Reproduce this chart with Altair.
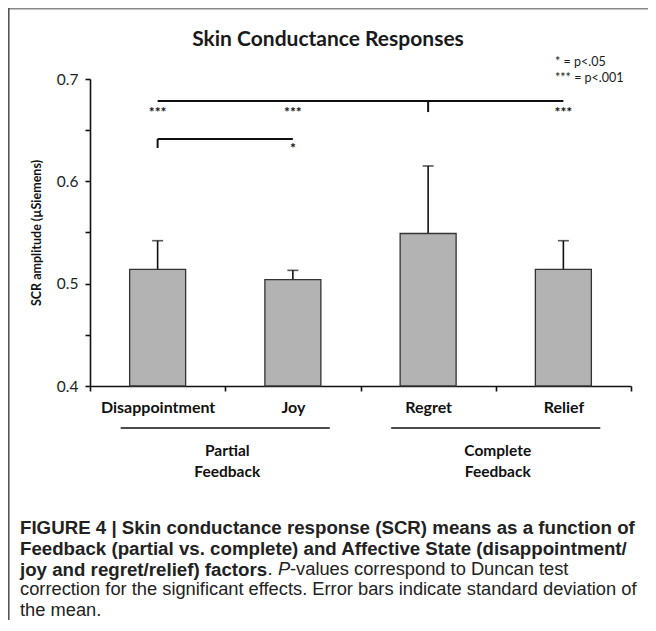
import altair as alt
import pandas as pd

# ---------------- data ----------------
categories = ["Disappointment", "Joy", "Regret", "Relief"]
means = [0.514, 0.504, 0.549, 0.514]
sds = [0.028, 0.009, 0.066, 0.028]
y_ticks = [0.40, 0.45, 0.50, 0.55, 0.60, 0.65, 0.70]
groups = [["Partial", "Feedback"], ["Complete", "Feedback"]]
title_text = "Skin Conductance Responses"
y_title = "SCR amplitude (µSiemens)"
legend_lines = ["* = p<.05", "*** = p<.001"]

# significance annotations (levels in data units)
top_bracket = {"from": "Disappointment", "to": "Relief", "tick_at": "Regret", "level": 0.6785, "tick_end": 0.6677}
top_stars = {"cats": ["Disappointment", "Joy", "Relief"], "label": "***", "level": 0.6665}
low_bracket = {"from": "Disappointment", "to": "Joy", "tick_at": "Disappointment", "level": 0.6414, "tick_end": 0.6326}
low_stars = {"cats": ["Joy"], "label": "*", "level": 0.6320}

caption_lines = [
    [("FIGURE 4 | Skin conductance response (SCR) means as a function of", "bold", "normal")],
    [("Feedback (partial vs. complete) and Affective State (disappointment/", "bold", "normal")],
    [("joy and regret/relief) factors", "bold", "normal"), (".", "normal", "normal"),
     ("P", "normal", "italic"), ("-values correspond to Duncan test", "normal", "normal")],
    [("correction for the significant effects. Error bars indicate standard deviation of", "normal", "normal")],
    [("the mean.", "normal", "normal")],
]

# ---------------- layout ----------------
W, H = 541, 307
PAD_L, PAD_T, PAD_R, PAD_B = 82, 71, 17, 234
FONT = "Lato"
CAP_FONT = "Liberation Sans"
step = W / len(categories)

df = pd.DataFrame({"cat": categories, "mean": means, "sd": sds})
df["upper"] = df["mean"] + df["sd"]

xscale = alt.Scale(domain=categories, paddingInner=0, paddingOuter=0)
yscale = alt.Scale(domain=[0.4, 0.7], nice=False, zero=False)

xaxis = alt.Axis(title=None, tickBand="extent", labelAngle=0, labelAlign="center",
                 labelFont=FONT, labelFontWeight="bold", labelFontSize=16, labelColor="#111",
                 labelPadding=16, domainColor="#111", domainWidth=1.6,
                 tickColor="#111", tickWidth=1.6, tickSize=5)
yaxis = alt.Axis(title=y_title, values=y_ticks,
                 labelExpr="abs(datum.value*10 - round(datum.value*10)) < 0.001 ? format(datum.value, '.1f') : ''",
                 labelFont=FONT, labelFontSize=15.5, labelColor="#222", labelPadding=7,
                 domainColor="#111", domainWidth=1.6, tickColor="#111", tickWidth=1.6,
                 tickSize=5, grid=False, titleFont=FONT, titleFontSize=12.5,
                 titleFontWeight="bold", titleColor="#111", titlePadding=13)

X = alt.X("cat:N", scale=xscale, axis=xaxis, sort=categories)
Y = alt.Y("mean:Q", scale=yscale, axis=yaxis)

bars = alt.Chart(df).mark_bar(width=alt.RelativeBandSize(0.414), color="#b3b3b3",
                              stroke="#333", strokeWidth=1.3).encode(
    x=X, y=Y, y2=alt.datum(0.4))
err = alt.Chart(df).mark_rule(color="#111", strokeWidth=1.6).encode(
    x=alt.X("cat:N", scale=xscale, sort=categories), y=alt.Y("upper:Q", scale=yscale), y2="mean:Q")
cap = alt.Chart(df).mark_tick(color="#111", thickness=1.6, size=11).encode(
    x=alt.X("cat:N", scale=xscale, sort=categories), y=alt.Y("upper:Q", scale=yscale))

layers = [err, cap, bars]

def bracket(b):
    seg = pd.DataFrame({"a": [b["from"]], "b": [b["to"]], "lv": [b["level"]]})
    tick = pd.DataFrame({"a": [b["tick_at"]], "lv": [b["level"]], "te": [b["tick_end"]]})
    h = alt.Chart(seg).mark_rule(color="#111", strokeWidth=2).encode(
        x=alt.X("a:N", scale=xscale, sort=categories, bandPosition=0.5),
        x2=alt.X2("b:N", bandPosition=0.5),
        y=alt.Y("lv:Q", scale=yscale))
    v = alt.Chart(tick).mark_rule(color="#111", strokeWidth=2).encode(
        x=alt.X("a:N", scale=xscale, sort=categories),
        y=alt.Y("lv:Q", scale=yscale), y2="te:Q")
    return [h, v]

def stars(s):
    d = pd.DataFrame({"a": s["cats"], "lv": [s["level"]] * len(s["cats"]), "t": [s["label"]] * len(s["cats"])})
    return alt.Chart(d).mark_text(font=FONT, fontSize=14, fontWeight="bold", color="#111",
                                  baseline="middle").encode(
        x=alt.X("a:N", scale=xscale, sort=categories), y=alt.Y("lv:Q", scale=yscale), text="t:N")

layers += bracket(top_bracket) + bracket(low_bracket) + [stars(top_stars), stars(low_stars)]

def txt(s, x, y, size, weight="normal", style="normal", font=FONT, align="left", color="#111"):
    return alt.Chart(pd.DataFrame({"t": [s]})).mark_text(
        font=font, fontSize=size, fontWeight=weight, fontStyle=style, align=align,
        baseline="middle", color=color).encode(x=alt.value(x), y=alt.value(y), text="t:N")

def hline(x1, x2, y, color="#111", width=1.6):
    return alt.Chart(pd.DataFrame({"k": [0]})).mark_rule(color=color, strokeWidth=width).encode(
        x=alt.value(x1), x2=alt.value(x2), y=alt.value(y))

def vline(x, y1, y2, color="#111", width=1.6):
    return alt.Chart(pd.DataFrame({"k": [0]})).mark_rule(color=color, strokeWidth=width).encode(
        x=alt.value(x), y=alt.value(y1), y2=alt.value(y2))

# title and legend
layers.append(txt(title_text, 238, -39, 21, "bold", align="center", color="#1a1a1a"))
for i, line in enumerate(legend_lines):
    layers.append(txt(line, 465, -17 + i * 16, 12.5, color="#1a1a1a"))

# feedback group lines and labels
for gi, lines in enumerate(groups):
    cx = step * (2 * gi + 1)
    layers.append(hline(cx - 0.773 * step, cx + 0.773 * step, 349))
    for li, s in enumerate(lines):
        layers.append(txt(s, cx + 2, 372 + li * 21, 15.5, "bold", align="center"))

# frame
layers.append(hline(-PAD_L + 0.5, W + PAD_R, -PAD_T + 0.8, color="#8a8a8a", width=1.6))
layers.append(vline(-PAD_L + 0.8, -PAD_T, H + PAD_B, color="#555", width=1.6))

# caption
seg_offsets = {2: [0, 247.5, 258, 270]}
for i, line in enumerate(caption_lines):
    y = 449 + i * 20.8
    offs = seg_offsets.get(i, [0])
    for (s, w, st), dx in zip(line, offs):
        size = 18.7 if w == "bold" else 18.3
        layers.append(txt(s, -70 + dx, y, size, w, st, font=CAP_FONT, color="#222"))

chart = alt.layer(*layers).properties(
    width=W, height=H,
    autosize=alt.AutoSizeParams(type="none"),
    padding={"left": PAD_L, "top": PAD_T, "right": PAD_R, "bottom": PAD_B},
    background="white",
).configure_view(stroke=None)

chart.save("out.html", embed_options={"renderer": "svg", "actions": False})
